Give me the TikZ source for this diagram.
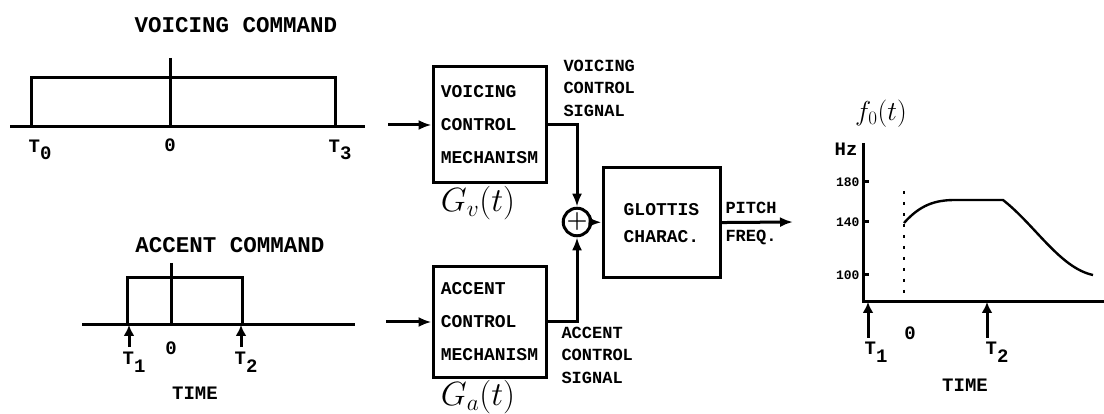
\documentclass[tikz,border=0pt]{standalone}
\usepackage{fontspec}
\setmonofont{Liberation Mono}
\usetikzlibrary{arrows.meta, positioning, calc}

\newcommand{\lowsub}[1]{\raisebox{-0.4em}{#1}}
\newcommand{\bigmath}[1]{\scalebox{1.35}{$#1$}}

\begin{document}
\begin{tikzpicture}[
    x=1pt, y=-1pt,
    line width=3pt,
    titletext/.style={font=\ttfamily\bfseries\fontsize{22.5}{24}\selectfont, inner sep=0pt},
    ticktext/.style={font=\ttfamily\bfseries\fontsize{19}{21}\selectfont, inner sep=0pt},
    smalltext/.style={font=\ttfamily\bfseries\fontsize{17}{22.5}\selectfont, inner sep=0pt, align=left},
    blockbox/.style={draw, rectangle, minimum width=113pt, minimum height=116pt,
      align=left, font=\ttfamily\bfseries\fontsize{18}{33}\selectfont, inner sep=3pt},
    sumnode/.style={draw, circle, minimum size=25pt, inner sep=0pt,
      font=\bfseries\fontsize{24}{24}\selectfont},
    mathtext/.style={font=\fontsize{24}{26}\selectfont, inner sep=0pt},
    arrow/.style={-{Latex[length=13pt,width=10pt]}},
    tickarrow/.style={-{Latex[length=11pt,width=11pt]}}
]
\useasboundingbox (0,0) rectangle (1104,414);

% Voicing command
\node[titletext] (vtitle) at (236,25) {VOICING COMMAND};
\draw (10,127) -- (365,127);
\draw (31,127) |- (335,78) -- (335,127);
\draw (170,58) -- (170,127);
\node[ticktext] (vt0) at (40,150) {T\lowsub{0}};
\node[ticktext] (vzero) at (170,145) {0};
\node[ticktext] (vt3) at (340,150) {T\lowsub{3}};

% Accent command
\node[titletext] (atitle) at (230,245) {ACCENT COMMAND};
\draw (82,325) -- (355,325);
\draw (127,325) |- (242,278) -- (242,325);
\draw (171,263) -- (171,325);
\coordinate (at1) at (129,325);
\coordinate (at2) at (241,325);
\draw[tickarrow] ($(at1)+(0,22)$) -- (at1);
\draw[tickarrow] ($(at2)+(0,22)$) -- (at2);
\node[ticktext] (at1lab) at (134,362) {T\lowsub{1}};
\node[ticktext] (azero) at (171,348) {0};
\node[ticktext] (at2lab) at (246,362) {T\lowsub{2}};
\node[ticktext] (atime) at (195,393) {TIME};

% Control mechanisms
\node[blockbox] (vcm) at (489.5,125) {VOICING\\CONTROL\\MECHANISM};
\node[blockbox, minimum height=110pt] (acm) at (489.5,322) {ACCENT\\CONTROL\\MECHANISM};
\node[mathtext] (gv) at (478,203) {\bigmath{G_v(t)}};
\node[mathtext] (ga) at (478,397) {\bigmath{G_a(t)}};
\coordinate (vin) at (388,125);
\coordinate (ain) at (386,322);
\draw[arrow] (vin) -- (vcm);
\draw[arrow] (ain) -- (acm);

% Summing point and glottis
\node[sumnode] (sum) at (577,222) {+};
\node[blockbox, minimum width=117pt, minimum height=110pt, align=center,
  font=\ttfamily\bfseries\fontsize{18}{27}\selectfont] (gc) at (661.5,223) {GLOTTIS\\CHARAC.};
\draw[arrow] (vcm.east) -| (sum.north);
\draw[arrow] (acm.east) -| (sum.south);
\draw[arrow] (sum) -- (gc);
\node[smalltext, anchor=west] (vsig) at (562,88) {VOICING\\CONTROL\\SIGNAL};
\node[smalltext, anchor=west] (asig) at (560,355) {ACCENT\\CONTROL\\SIGNAL};

% Pitch output
\coordinate (pout) at (793,222);
\draw[arrow] (gc) -- (pout);
\node[smalltext, anchor=west] (pitch) at (724,208) {PITCH};
\node[smalltext, anchor=west] (freq) at (724,237) {FREQ.};

% F0 contour
\coordinate (origin) at (863,302);
\draw (863,143) -- (origin) -- (1104,302);
\foreach \yy/\lab in {182/180, 222/140, 275/100}
  \draw (863,\yy) -- (869,\yy) node[at start, left=1pt, font=\ttfamily\bfseries\fontsize{13}{14}\selectfont, inner sep=1pt] {\lab};
\node[ticktext, anchor=east] (hz) at (859,149) {Hz};
\node[mathtext] (fzero) at (881,114) {\scalebox{1.1}{$f_0(t)$}};
\draw[line width=2.8pt, dash pattern=on 2.8pt off 8.2pt] (904,191) -- (904,300);
\draw[line width=2.4pt] (904,223) .. controls (920,205) and (935,200) .. (955,200)
  -- (1003,200) .. controls (1035,225) and (1060,268) .. (1093,275);
\coordinate (ft1) at (868,302);
\coordinate (ft2) at (987,302);
\draw[tickarrow] ($(ft1)+(0,36)$) -- (ft1);
\draw[tickarrow] ($(ft2)+(0,36)$) -- (ft2);
\node[ticktext] (ft1lab) at (876,352) {T\lowsub{1}};
\node[ticktext] (fzerolab) at (910,333) {0};
\node[ticktext] (ft2lab) at (997,352) {T\lowsub{2}};
\node[ticktext] (ftime) at (965,385) {TIME};

\end{tikzpicture}
\end{document}
